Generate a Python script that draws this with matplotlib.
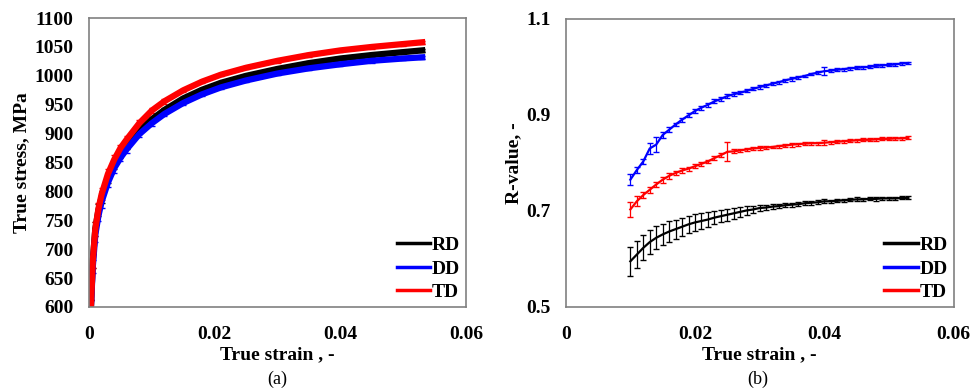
import numpy as np
import matplotlib
matplotlib.use("Agg")
import matplotlib.pyplot as plt

plt.rcParams['font.family'] = ['Liberation Serif', 'DejaVu Serif']
plt.rcParams['font.weight'] = 'bold'

# (a) true stress-strain
strain_a = [0.0003, 0.0006, 0.001, 0.0015, 0.002, 0.003, 0.004, 0.005, 0.006, 0.008,
            0.010, 0.012, 0.015, 0.018, 0.021, 0.025, 0.030, 0.035, 0.040, 0.045,
            0.050, 0.053]
stress_rd = [600, 680, 735, 768, 790, 822, 846, 864, 879, 905,
             925, 941, 961, 976, 988, 1000, 1012, 1022, 1030, 1036, 1041, 1044]
stress_dd = [600, 670, 725, 758, 782, 815, 840, 858, 873, 899,
             918, 934, 953, 968, 980, 992, 1004, 1013, 1020, 1026, 1030, 1032]
stress_td = [600, 680, 735, 770, 795, 830, 855, 875, 890, 918,
             940, 956, 975, 990, 1002, 1014, 1026, 1036, 1044, 1050, 1055, 1058]
stress_err = [12, 12, 12, 10, 10, 8, 8, 6, 6, 5, 4, 4, 3, 3, 3, 3, 3, 3, 3, 3, 3, 3]

# (b) R-value
strain_b = [0.010, 0.011, 0.012, 0.013, 0.014, 0.015, 0.016, 0.017, 0.018, 0.019,
            0.020, 0.021, 0.022, 0.023, 0.024, 0.025, 0.026, 0.027, 0.028, 0.029,
            0.030, 0.031, 0.032, 0.033, 0.034, 0.035, 0.036, 0.037, 0.038, 0.039,
            0.040, 0.041, 0.042, 0.043, 0.044, 0.045, 0.046, 0.047, 0.048, 0.049,
            0.050, 0.051, 0.052, 0.053]
r_rd = [0.595, 0.609, 0.623, 0.635, 0.644, 0.651, 0.657, 0.662, 0.667, 0.672,
        0.676, 0.679, 0.682, 0.686, 0.689, 0.692, 0.695, 0.698, 0.701, 0.703,
        0.706, 0.707, 0.709, 0.710, 0.712, 0.713, 0.714, 0.716, 0.717, 0.718,
        0.720, 0.720, 0.721, 0.722, 0.723, 0.724, 0.724, 0.725, 0.725, 0.726,
        0.726, 0.726, 0.727, 0.727]
err_rd = [0.030, 0.028, 0.026, 0.025, 0.024, 0.022, 0.021, 0.020, 0.019, 0.018,
          0.017, 0.016, 0.015, 0.014, 0.013, 0.012, 0.011, 0.010, 0.009, 0.008,
          0.007, 0.006, 0.005, 0.005, 0.004, 0.004, 0.004, 0.004, 0.004, 0.004,
          0.004, 0.003, 0.003, 0.003, 0.003, 0.004, 0.003, 0.003, 0.004, 0.003,
          0.003, 0.003, 0.003, 0.003]
r_dd = [0.765, 0.785, 0.803, 0.830, 0.838, 0.858, 0.869, 0.880, 0.890, 0.899,
        0.908, 0.915, 0.921, 0.928, 0.933, 0.939, 0.943, 0.946, 0.950, 0.954,
        0.958, 0.961, 0.965, 0.968, 0.972, 0.975, 0.978, 0.981, 0.985, 0.988,
        0.991, 0.992, 0.994, 0.995, 0.997, 0.998, 0.999, 1.000, 1.002, 1.003,
        1.004, 1.005, 1.007, 1.008]
err_dd = [0.012, 0.006, 0.006, 0.012, 0.015, 0.006, 0.005, 0.004, 0.004, 0.004,
          0.005, 0.004, 0.004, 0.004, 0.004, 0.004, 0.004, 0.003, 0.003, 0.003,
          0.004, 0.003, 0.003, 0.003, 0.003, 0.004, 0.003, 0.003, 0.003, 0.003,
          0.008, 0.003, 0.003, 0.003, 0.003, 0.003, 0.003, 0.003, 0.003, 0.003,
          0.003, 0.003, 0.003, 0.003]
r_td = [0.703, 0.720, 0.733, 0.744, 0.755, 0.765, 0.773, 0.779, 0.784, 0.788,
        0.793, 0.798, 0.803, 0.810, 0.816, 0.823, 0.824, 0.826, 0.828, 0.830,
        0.831, 0.832, 0.833, 0.835, 0.836, 0.838, 0.839, 0.840, 0.841, 0.841,
        0.842, 0.843, 0.844, 0.845, 0.846, 0.847, 0.848, 0.848, 0.849, 0.850,
        0.850, 0.851, 0.851, 0.852]
err_td = [0.015, 0.010, 0.006, 0.006, 0.005, 0.006, 0.006, 0.005, 0.005, 0.004,
          0.004, 0.004, 0.004, 0.004, 0.004, 0.020, 0.004, 0.003, 0.003, 0.003,
          0.004, 0.003, 0.003, 0.003, 0.003, 0.004, 0.003, 0.003, 0.003, 0.003,
          0.005, 0.003, 0.003, 0.003, 0.003, 0.003, 0.003, 0.003, 0.003, 0.003,
          0.003, 0.003, 0.003, 0.003]

labels = ['RD', 'DD', 'TD']
colors = ['black', '#0000ff', '#ff0000']

fig = plt.figure(figsize=(9.72, 3.92), dpi=100)
ax1 = fig.add_axes([0.0916, 0.217, 0.388, 0.737])
ax2 = fig.add_axes([0.582, 0.217, 0.399, 0.735])

fs = 14

def style(ax):
    for s in ax.spines.values():
        s.set_color('#808080')
        s.set_linewidth(1.2)
    ax.tick_params(axis='y', length=0, pad=11, labelsize=fs)
    ax.tick_params(axis='x', length=0, pad=14, labelsize=fs)
    for t in ax.get_xticklabels() + ax.get_yticklabels():
        t.set_fontweight('bold')

for lab, c, y in zip(labels, colors, [stress_rd, stress_dd, stress_td]):
    ax1.errorbar(strain_a, y, yerr=stress_err, color=c, lw=4.5, elinewidth=1,
                 capsize=2, label=lab)
ax1.set_xlim(0, 0.06)
ax1.set_ylim(600, 1100)
ax1.set_xticks([0, 0.02, 0.04, 0.06])
ax1.set_xticklabels(['0', '0.02', '0.04', '0.06'])
ax1.set_yticks(np.arange(600, 1101, 50))
ax1.set_xlabel('True strain , -', fontsize=fs, fontweight='bold', labelpad=2)
ax1.set_ylabel('True stress, MPa', fontsize=fs, fontweight='bold', labelpad=3)
style(ax1)

for lab, c, y, e in zip(labels, colors, [r_rd, r_dd, r_td], [err_rd, err_dd, err_td]):
    ax2.errorbar(strain_b, y, yerr=e, color=c, lw=1.6, elinewidth=0.9,
                 capsize=2.5, label=lab)
ax2.set_xlim(0, 0.06)
ax2.set_ylim(0.5, 1.1)
ax2.set_xticks([0, 0.02, 0.04, 0.06])
ax2.set_xticklabels(['0', '0.02', '0.04', '0.06'])
ax2.set_yticks([0.5, 0.7, 0.9, 1.1])
ax2.set_yticklabels(['0.5', '0.7', '0.9', '1.1'])
ax2.set_xlabel('True strain , -', fontsize=fs, fontweight='bold', labelpad=2)
ax2.set_ylabel('R-value, -', fontsize=fs, fontweight='bold', labelpad=3)
style(ax2)

for ax in (ax1, ax2):
    handles = [plt.Line2D([], [], color=c, lw=2.5) for c in colors]
    ax.legend(handles, labels, loc='lower right', frameon=False,
              handlelength=1.7, handletextpad=0.1, labelspacing=0.3,
              borderaxespad=0.0, borderpad=0.3,
              prop={'size': fs, 'weight': 'bold'})

fig.text(0.285, 0.02, '(a)', ha='center', fontsize=13, fontweight='normal')
fig.text(0.78, 0.02, '(b)', ha='center', fontsize=13, fontweight='normal')

fig.savefig('out.png', dpi=100)
